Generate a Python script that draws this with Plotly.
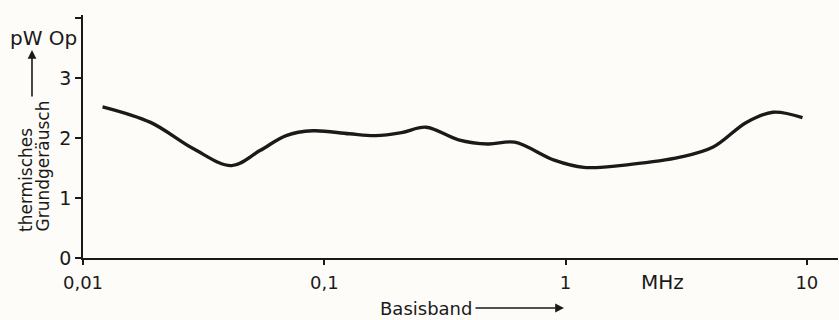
import plotly.graph_objects as go

# Data (frequency in MHz, thermal noise in pW Op)
freq_mhz = [0.01205, 0.01905, 0.0287, 0.0413, 0.0541, 0.0695, 0.0895, 0.127,
            0.163, 0.209, 0.264, 0.36, 0.477, 0.615, 0.897, 1.19, 1.86, 2.98,
            4.09, 5.61, 7.23, 9.59]
noise_pw = [2.52, 2.26, 1.82, 1.54, 1.79, 2.04, 2.12, 2.07,
            2.04, 2.09, 2.18, 1.97, 1.90, 1.93, 1.63, 1.51, 1.56, 1.68,
            1.85, 2.26, 2.43, 2.34]

x_tickvals = [0.01, 0.1, 1, 10]
x_ticktext = ["0,01", "0,1", "1", "10"]
y_tickvals = [0, 1, 2, 3, 4]
y_ticktext = ["0", "1", "2", "3", ""]

W, H = 839, 320
L, R, T, B = 83, 1, 15, 62
INK = "#1a1a1a"
BG = "#fdfcf9"
FONT = "'DejaVu Sans', sans-serif"

def px(xp):
    return (xp - L) / (W - L - R)

def py(yp):
    return (H - B - yp) / (H - T - B)

fig = go.Figure()
fig.add_trace(go.Scatter(x=freq_mhz, y=noise_pw, mode="lines",
                         line=dict(color=INK, width=3.4, shape="spline", smoothing=1.0),
                         hoverinfo="skip"))

def label(text, xp, yp, size, angle=0):
    return dict(text=text, x=px(xp), y=py(yp), xref="paper", yref="paper",
                xanchor="center", yanchor="middle", textangle=angle,
                showarrow=False, font=dict(size=size, color=INK, family=FONT))

ann = [
    label("pW Op", 43, 38, 20),
    dict(text="", x=px(32), y=py(50), xref="paper", yref="paper",
         showarrow=True, ax=0, ay=48, arrowhead=2, arrowsize=1.1,
         arrowwidth=1.6, arrowcolor=INK),
    dict(text="thermisches", x=px(26), y=py(234), xref="paper", yref="paper",
         textangle=-90, xanchor="center", yanchor="bottom", showarrow=False,
         font=dict(size=17, color=INK, family=FONT)),
    dict(text="Grundgeräusch", x=px(42), y=py(234), xref="paper", yref="paper",
         textangle=-90, xanchor="center", yanchor="bottom", showarrow=False,
         font=dict(size=17, color=INK, family=FONT)),
    label("MHz", 662, 282, 20),
    label("Basisband", 426, 308, 18),
    dict(text="", x=px(564), y=py(308), xref="paper", yref="paper",
         showarrow=True, ax=-90, ay=0, arrowhead=2, arrowsize=1.1,
         arrowwidth=1.6, arrowcolor=INK),
]

fig.update_layout(
    width=W, height=H,
    margin=dict(l=L, r=R, t=T, b=B, autoexpand=False),
    paper_bgcolor=BG, plot_bgcolor=BG,
    showlegend=False,
    font=dict(family=FONT, size=18, color=INK),
    annotations=ann,
    xaxis=dict(type="log", range=[-2, 1.129], tickvals=x_tickvals, ticktext=x_ticktext,
               showgrid=False, zeroline=False, showline=True, linecolor=INK, linewidth=1.5,
               ticks="outside", ticklen=5, tickwidth=1.5, tickcolor=INK,
               ticklabelstandoff=3,
               tickfont=dict(size=18, color=INK, family=FONT), automargin=False),
    yaxis=dict(range=[0, 4.05], tickvals=y_tickvals, ticktext=y_ticktext,
               showgrid=False, zeroline=False, showline=True, linecolor=INK, linewidth=1.5,
               ticks="outside", ticklen=6, tickwidth=1.5, tickcolor=INK,
               tickfont=dict(size=19, color=INK, family=FONT), automargin=False),
)

fig.write_html("out.html", config={"displayModeBar": False},
               post_script="document.body.style.margin='0';")
